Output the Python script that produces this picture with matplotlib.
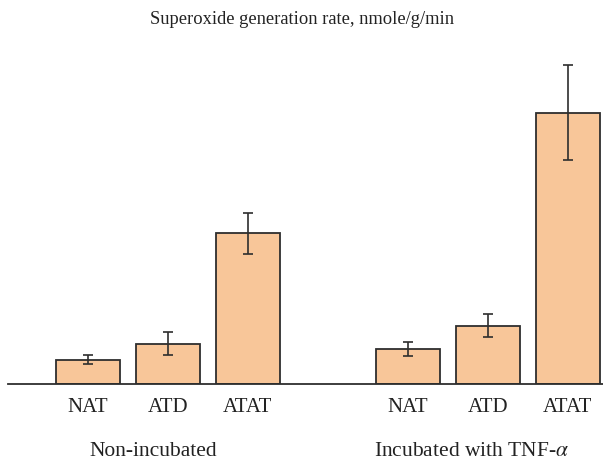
import matplotlib.pyplot as plt
import numpy as np

# data (arbitrary units)
groups = ['Non-incubated', 'Incubated with TNF-$\\alpha$']
labels = ['NAT', 'ATD', 'ATAT', 'NAT', 'ATD', 'ATAT']
values = [24.5, 40.5, 151, 35.5, 58.5, 271.5]
errors = [4.8, 11.3, 20.5, 7.0, 11.5, 47.5]
positions = [0, 1, 2, 4, 5, 6]

plt.rcParams['font.family'] = ['Liberation Serif', 'DejaVu Serif']
plt.rcParams['mathtext.fontset'] = 'stix'

fig = plt.figure(figsize=(6.03, 4.62), dpi=100)
ax = fig.add_axes([8/603, 78/462, 595/603, 344/462])

ax.bar(positions, values, width=0.8, color='#f8c699', edgecolor='#2e2e2e',
       linewidth=1.3, zorder=2)
ax.errorbar(positions, values, yerr=errors, fmt='none', ecolor='#2e2e2e',
            elinewidth=1.2, capsize=3.5, capthick=1.2, zorder=3)

ax.set_xlim(-1.0, 6.44)
ax.set_ylim(0, 344)
for s in ['top', 'right', 'left']:
    ax.spines[s].set_visible(False)
ax.spines['bottom'].set_linewidth(1.3)
ax.spines['bottom'].set_color('#2e2e2e')
ax.set_yticks([])
ax.set_xticks(positions)
ax.set_xticklabels(labels, fontsize=15, color='#222222')
ax.tick_params(axis='x', length=0, pad=10)

fig.text(0.5, 1 - 20/462, 'Superoxide generation rate, nmole/g/min',
         ha='center', va='center', fontsize=13.3, color='#222222')
# group captions sit a little left of the middle bar
ax.text(0.82, -67, groups[0], ha='center', va='center', fontsize=15.5,
        color='#222222', clip_on=False)
ax.text(4.8, -67, groups[1], ha='center', va='center', fontsize=15.5,
        color='#222222', clip_on=False)

fig.savefig('out.png', dpi=100)
